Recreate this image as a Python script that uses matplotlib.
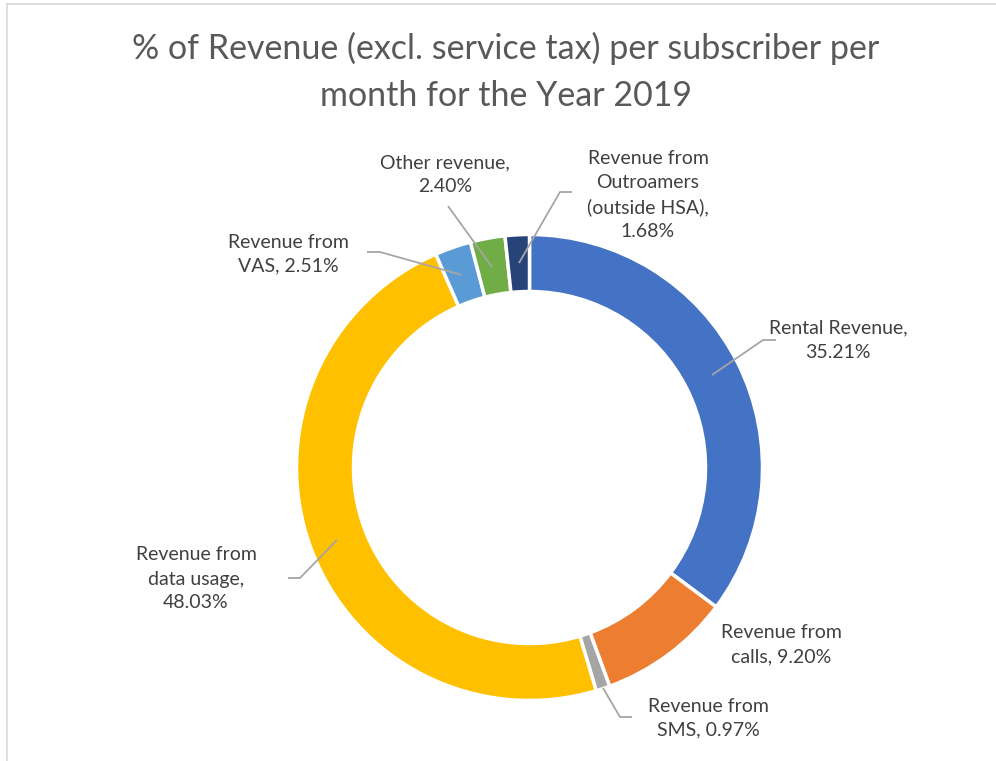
import matplotlib
matplotlib.use("Agg")
import matplotlib.pyplot as plt

# data
labels = [
    "Rental Revenue,\n35.21%",
    "Revenue from\ncalls, 9.20%",
    "Revenue from\nSMS, 0.97%",
    "Revenue from\ndata usage,\n48.03%",
    "Revenue from\nVAS, 2.51%",
    "Other revenue,\n2.40%",
    "Revenue from\nOutroamers\n(outside HSA),\n1.68%",
]
shares = [35.21, 9.20, 0.97, 48.03, 2.51, 2.40, 1.68]
colors = ["#4472C4", "#ED7D31", "#A5A5A5", "#FFC000", "#5B9BD5", "#70AD47", "#264478"]

# layout in pixels from the top-left: (label x, label y, leader path)
label_pos = [
    (838, 340, [(712, 375), (763, 340), (776, 340)]),
    (781, 645, None),
    (708, 718, [(603, 688), (620, 717), (632, 717)]),
    (196, 579, [(337, 540), (300, 578), (288, 578)]),
    (288, 254, [(462, 275), (380, 252), (367, 252)]),
    (445, 175, [(492, 267), (448, 206)]),
    (648, 195, [(519, 263), (560, 192), (572, 192)]),
]

W, H = 996, 761
FONT = ["Lato", "DejaVu Sans"]
TEXT_COLOR = "#404040"

fig = plt.figure(figsize=(W / 100, H / 100), dpi=100)
ax = fig.add_axes([0, 0, 1, 1])

ax.pie(
    shares,
    colors=colors,
    startangle=90,
    counterclock=False,
    center=(529.5, H - 467.5),
    radius=233,
    wedgeprops=dict(width=57, edgecolor="white", linewidth=2.5),
    frame=True,
)
ax.set_xlim(0, W)
ax.set_ylim(0, H)
ax.axis("off")
ax.set_aspect("equal")

for text, (tx, ty, path) in zip(labels, label_pos):
    ax.text(tx, H - ty, text, ha="center", va="center", fontsize=14,
            color=TEXT_COLOR, family=FONT, linespacing=1.5)
    if path:
        xs = [p[0] for p in path]
        ys = [H - p[1] for p in path]
        ax.plot(xs, ys, color="#A6A6A6", lw=1.3, solid_capstyle="butt")

ax.text(W / 2 + 8, H - 72, "% of Revenue (excl. service tax) per subscriber per\nmonth for the Year 2019",
        ha="center", va="center", fontsize=24.5, color="#595959", family=FONT, linespacing=1.6)

# chart-area border (top and left edges only show in the crop)
ax.plot([7, W], [H - 4, H - 4], color="#D9D9D9", lw=1.2)
ax.plot([7, 7], [H - 4, 0], color="#D9D9D9", lw=1.2)

fig.savefig("out.png", dpi=100)
